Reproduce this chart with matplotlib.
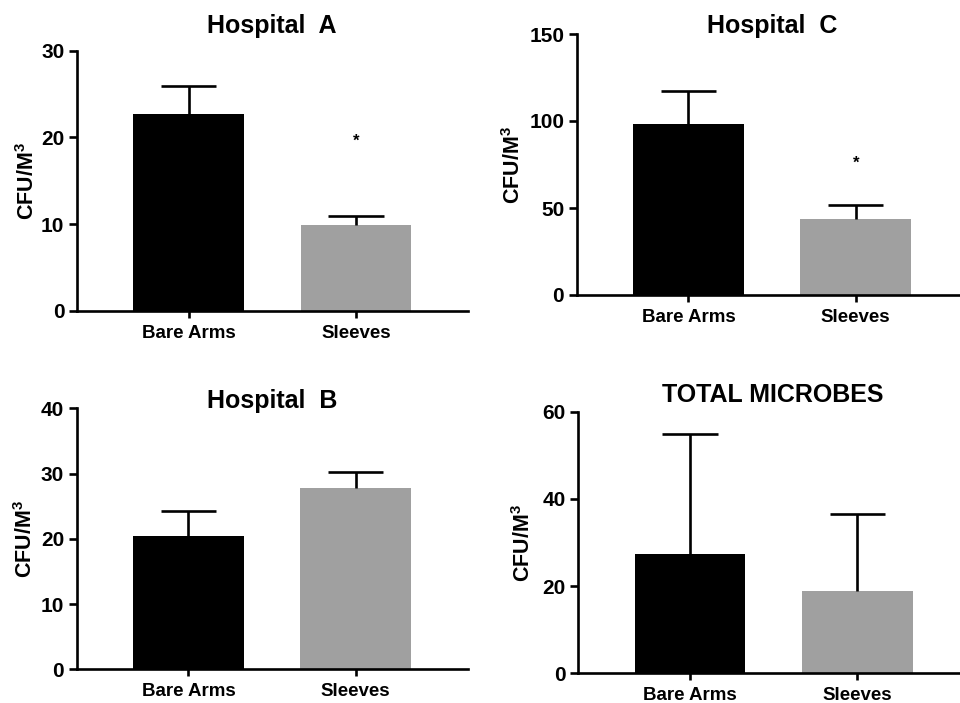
import matplotlib
matplotlib.use("Agg")
import matplotlib.pyplot as plt

plt.rcParams['font.family'] = ['Liberation Sans', 'DejaVu Sans']
plt.rcParams['font.weight'] = 'bold'
plt.rcParams['mathtext.fontset'] = 'custom'
plt.rcParams['mathtext.rm'] = 'Liberation Sans:bold'
plt.rcParams['mathtext.it'] = 'Liberation Sans:bold'
plt.rcParams['mathtext.bf'] = 'Liberation Sans:bold'

# Data: mean CFU/m^3 and upper error (SEM) per group
groups = ["Bare Arms", "Sleeves"]

hospital_a_mean = [22.7, 9.9]
hospital_a_err = [3.2, 1.0]
hospital_a_sig = [None, 19.6]

hospital_b_mean = [20.5, 27.8]
hospital_b_err = [3.8, 2.5]
hospital_b_sig = [None, None]

hospital_c_mean = [98.1, 43.9]
hospital_c_err = [19.0, 8.0]
hospital_c_sig = [None, 75.7]

total_mean = [27.4, 18.9]
total_err = [27.5, 17.7]
total_sig = [None, None]

bar_colors = ["#000000", "#a0a0a0"]

W, H = 960, 703
fig = plt.figure(figsize=(W / 100, H / 100), dpi=100)

panels = [
    # (title, means, errs, sig, ylim, yticks, axes px box (l, t, r, b), title px pos, ylabel px x)
    ("Hospital  A", hospital_a_mean, hospital_a_err, hospital_a_sig, 30, [0, 10, 20, 30],
     (77, 50.7, 468, 310.7), (272, 26), 39),
    ("Hospital  C", hospital_c_mean, hospital_c_err, hospital_c_sig, 150, [0, 50, 100, 150],
     (576.7, 34, 960, 295), (772, 26), 525),
    ("Hospital  B", hospital_b_mean, hospital_b_err, hospital_b_sig, 40, [0, 10, 20, 30, 40],
     (76.7, 408.3, 468, 669.3), (272, 401), 37),
    ("TOTAL MICROBES", total_mean, total_err, total_sig, 60, [0, 20, 40, 60],
     (578.3, 411.7, 960, 673.3), (773, 395), 535),
]

x = [0, 1]
bar_w = 0.663
cap_w = 0.33
lw = 1.9

for title, means, errs, sig, ymax, yticks, box, tpos, ylab_x in panels:
    l, t, r, b = box
    ax = fig.add_axes([l / W, 1 - b / H, (r - l) / W, (b - t) / H])
    ax.bar(x, means, width=bar_w, color=bar_colors, edgecolor='none', zorder=2)
    # upper-only error bars with a cap at the top
    tops = [m + e for m, e in zip(means, errs)]
    ax.vlines(x, means, tops, colors='black', linewidth=lw, zorder=3)
    ax.hlines(tops, [xi - cap_w / 2 for xi in x], [xi + cap_w / 2 for xi in x],
              colors='black', linewidth=lw, zorder=3)
    for xi, s in zip(x, sig):
        if s is not None:
            ax.text(xi, s, "*", ha='center', va='center', fontsize=12,
                    fontweight='bold')
    px_per_unit = (356 - 188.7)
    ax.set_xlim(-(188.7 - 77) / px_per_unit, 1 + (r - l - (356 - 77)) / px_per_unit)
    ax.set_ylim(0, ymax)
    ax.set_yticks(yticks)
    ax.set_xticks(x)
    ax.set_xticklabels(groups)
    for sp in ['top', 'right']:
        ax.spines[sp].set_visible(False)
    for sp in ['left', 'bottom']:
        ax.spines[sp].set_linewidth(lw)
    ax.tick_params(axis='y', length=6, width=lw, pad=3, labelsize=15)
    ax.tick_params(axis='x', length=5, width=lw, pad=5, labelsize=13.5)
    ax.set_ylabel("CFU/M$^3$", fontsize=15.5, fontweight='bold')
    ax.yaxis.set_label_coords((ylab_x - l) / (r - l), 0.5)
    ax.patch.set_visible(False)
    fig.text(tpos[0] / W, 1 - tpos[1] / H, title, ha='center', va='center',
             fontsize=18, fontweight='bold')

fig.savefig("out.png", dpi=100)
